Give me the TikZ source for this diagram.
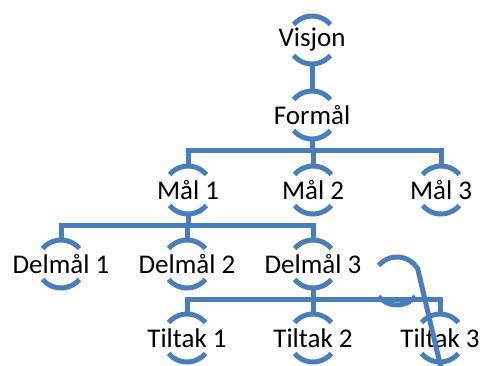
\documentclass[tikz,border=0pt]{standalone}
\usepackage{fontspec}
\setmainfont{Carlito}
\usetikzlibrary{calc}
\definecolor{acc}{RGB}{74,126,187}
\tikzset{
  ln/.style={draw=acc, line width=5pt},
  txt/.style={inner sep=0pt, font=\fontsize{27}{27}\selectfont, text=black},
}
\newcommand{\brk}[1]{%
  \draw[ln] ([shift={(40:24pt)}]#1.center) arc[start angle=40,end angle=140,radius=24pt];
  \draw[ln] ([shift={(220:24pt)}]#1.center) arc[start angle=220,end angle=320,radius=24pt];}
\newcommand{\elb}[2]{%
  \draw[ln] ([yshift=-24pt]#1.center) -- ++(0,-11pt) -| ([yshift=24pt]#2.center);}
\begin{document}
\begin{tikzpicture}[x=1pt,y=1pt]
\useasboundingbox (0,0) rectangle (484,365);
\node[txt] (vis) at (312,325) {Visjon};
\node[txt] (for) at (312,250) {Formål};
\node[txt] (m1) at (188,175) {Mål 1};
\node[txt] (m2) at (313,175) {Mål 2};
\node[txt] (m3) at (441,175) {Mål 3};
\node[txt] (d1) at (61,101) {Delmål 1};
\node[txt] (d2) at (187,101) {Delmål 2};
\node[txt] (d3) at (313,101) {Delmål 3};
\node[txt] (t1) at (187,27) {Tiltak 1};
\node[txt] (t2) at (313,27) {Tiltak 2};
\node[txt] (t3) at (440,27) {Tiltak 3};
\coordinate (g) at (397,84);
\coordinate (gend) at (441,-3);
\foreach \n in {vis,for,m1,m2,m3,d1,d2,d3,t1,t2,t3,g} {\brk{\n}}
\draw[ln] ([yshift=-24pt]vis.center) -- ([yshift=24pt]for.center);
\elb{for}{m1}\elb{for}{m2}\elb{for}{m3}
\elb{m1}{d1}\elb{m1}{d2}\elb{m1}{d3}
\elb{d3}{t1}\elb{d3}{t2}\elb{d3}{t3}
\draw[ln] ([shift={(40:24pt)}]g) arc[start angle=40,end angle=30,radius=24pt] -- (gend);
\end{tikzpicture}
\end{document}
